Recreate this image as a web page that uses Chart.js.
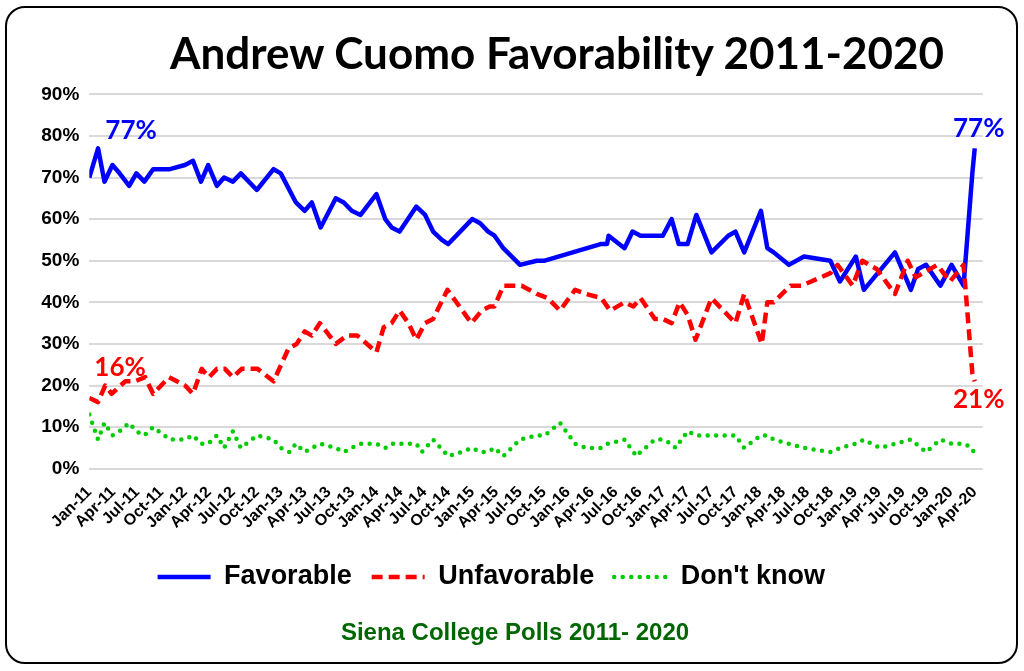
<!DOCTYPE html>
<html>
<head>
<meta charset="utf-8">
<script src="https://cdn.jsdelivr.net/npm/chart.js@4.4.1/dist/chart.umd.min.js"></script>
<style>
  body { margin: 0; background: #fff; }
  #wrap { position: relative; width: 1024px; height: 671px; overflow: hidden; }
  #myChart { position: absolute; left: 0; top: 0; }
  #frame { position: absolute; left: 5px; top: 6px; width: 1013px; height: 658px; box-sizing: border-box;
           border: 2px solid #000; border-radius: 20px; pointer-events: none; }
  #title { position: absolute; left: 557px; top: 26px; transform: translateX(-50%); white-space: nowrap;
           font: bold 44px/1.2 Lato, sans-serif; color: #000; }
  #source { position: absolute; left: 515px; top: 619px; transform: translateX(-50%); white-space: nowrap;
            font: bold 24px/26px "Liberation Sans", Arial, sans-serif; color: #006600; }
</style>
</head>
<body>
<div id="wrap">
  <canvas id="myChart" width="1024" height="671"></canvas>
  <div id="title">Andrew Cuomo Favorability 2011-2020</div>
  <div id="source">Siena College Polls 2011- 2020</div>
  <div id="frame"></div>
</div>
<script>
// months counted from Jan 2011 (0 = Jan-11, 111 = Apr-20)
var tickLabels = ['Jan-11', 'Apr-11', 'Jul-11', 'Oct-11', 'Jan-12', 'Apr-12', 'Jul-12', 'Oct-12',
    'Jan-13', 'Apr-13', 'Jul-13', 'Oct-13', 'Jan-14', 'Apr-14', 'Jul-14', 'Oct-14',
    'Jan-15', 'Apr-15', 'Jul-15', 'Oct-15', 'Jan-16', 'Apr-16', 'Jul-16', 'Oct-16',
    'Jan-17', 'Apr-17', 'Jul-17', 'Oct-17', 'Jan-18', 'Apr-18', 'Jul-18', 'Oct-18',
    'Jan-19', 'Apr-19', 'Jul-19', 'Oct-19', 'Jan-20', 'Apr-20']

var favMonths = [0, 1.1, 1.9, 2.9, 3.8, 5.0, 5.9, 6.9, 8.0, 10.1, 12.0, 13.0, 14.0, 14.9, 16.0, 16.9, 18.0, 19.0, 21.0, 23.1,
    24.0, 25.9, 27.0, 27.9, 29.0, 30.9, 31.9, 32.9, 34.0, 36.0, 37.1, 37.9, 38.9, 41.0, 42.1, 43.1, 44.2, 45.0, 48.0, 49.0,
    50.0, 50.8, 51.9, 54.0, 56.1, 57.1, 64.1, 64.9, 65.1, 67.1, 68.1, 69.1, 71.9, 73.0, 73.9, 75.0, 76.1, 78.0, 80.1, 81.0,
    82.1, 84.2, 85.0, 85.8, 87.7, 89.6, 92.9, 94.1, 96.1, 97.1, 101.0, 103.0, 103.9, 104.9, 106.7, 108.1, 109.6, 110.7, 111.0]
var favValues = [70, 77, 69, 73, 71, 68, 71, 69, 72, 72, 73, 74, 69, 73, 68, 70, 69, 71, 67, 72,
    71, 64, 62, 64, 58, 65, 64, 62, 61, 66, 60, 58, 57, 63, 61, 57, 55, 54, 60, 59,
    57, 56, 53, 49, 50, 50, 54, 54, 56, 53, 57, 56, 56, 60, 54, 54, 61, 52, 56, 57,
    52, 62, 53, 52, 49, 51, 50, 45, 51, 43, 52, 43, 48, 49, 44, 49, 44, 71, 77]

var unfavMonths = [0, 1.1, 2.0, 2.8, 4.5, 5.7, 7.0, 8.0, 10.0, 12.0, 13.0, 14.1, 15.0, 16.0, 17.0, 18.0, 19.1, 21.1, 23.1, 25.0,
    26.0, 27.0, 27.9, 28.9, 30.9, 32.3, 33.6, 36.0, 36.9, 37.9, 38.9, 40.0, 41.0, 42.1, 43.1, 44.9, 47.9, 49.2, 50.2, 50.8,
    51.9, 54.2, 56.1, 57.5, 59.0, 60.9, 62.3, 64.2, 65.3, 67.1, 68.2, 69.1, 70.9, 71.9, 73.0, 74.0, 75.0, 76.0, 78.0, 80.0,
    81.0, 82.1, 84.3, 85.0, 85.8, 87.9, 89.3, 92.9, 93.8, 95.7, 96.9, 98.7, 101.0, 102.6, 103.6, 106.3, 107.9, 109.6, 110.7, 111.0]
var unfavValues = [17, 16, 20, 18, 21, 21, 22, 18, 22, 20, 18, 24, 22, 24, 24, 22, 24, 24, 21, 29,
    30, 33, 32, 35, 30, 32, 32, 28, 34, 35, 38, 35, 31, 35, 36, 43, 35, 38, 39, 39,
    44, 44, 42, 41, 38, 43, 42, 41, 38, 40, 39, 41, 36, 36, 35, 40, 37, 31, 41, 37,
    35, 42, 30, 40, 40, 44, 44, 47, 49, 44, 50, 48, 42, 50, 46, 49, 45, 49, 23, 21]

var dkMonths = [0, 1.1, 1.9, 2.9, 3.8, 5.0, 5.9, 6.9, 8.0, 10.1, 12.0, 13.0, 14.0, 14.9, 16.0, 16.9, 18.0, 19.0, 21.0, 23.1,
    24.0, 25.1, 25.9, 27.0, 27.9, 29.0, 30.9, 31.9, 32.9, 34.0, 36.0, 37.1, 37.9, 38.9, 41.0, 41.7, 43.1, 45.0, 46.6, 48.0,
    49.0, 50.0, 50.8, 51.9, 54.0, 56.1, 57.1, 59.0, 60.9, 62.3, 64.1, 65.0, 67.1, 68.6, 69.1, 70.9, 71.9, 73.0, 73.5, 75.0,
    76.1, 78.0, 80.1, 81.0, 82.1, 84.2, 85.0, 85.8, 87.7, 89.6, 92.9, 94.1, 96.1, 97.1, 99.1, 101.0, 103.0, 104.9, 106.7, 108.1,
    109.6, 110.7, 111.0]
var dkValues = [13, 7, 11, 8, 9, 11, 9, 8, 10, 7, 7, 8, 6, 6, 8, 5, 9, 5, 8, 7,
    5, 4, 6, 4, 5, 6, 5, 4, 5, 6, 6, 5, 6, 6, 6, 4, 7, 3, 4, 5,
    4, 4, 5, 3, 7, 8, 8, 11, 6, 5, 5, 6, 7, 3, 4, 7, 7, 6, 5, 9,
    8, 8, 8, 8, 5, 8, 8, 7, 6, 5, 4, 5, 6, 7, 5, 6, 7, 4, 7, 6,
    6, 5, 3]

function points(months, values) {
    return months.map(function (m, i) { return {x: m, y: values[i]} })
}

// value labels: which series / point, and where the text sits relative to it
var notes = [
    {months: favMonths, values: favValues, index: 1, color: '#0000ff', dx: 33, dy: -18},
    {months: unfavMonths, values: unfavValues, index: 1, color: '#ff0000', dx: 22, dy: -35},
    {months: favMonths, values: favValues, index: favValues.length - 1, color: '#0000ff', dx: 4, dy: -20},
    {months: unfavMonths, values: unfavValues, index: unfavValues.length - 1, color: '#ff0000', dx: 4, dy: 18}
]

var pointLabels = {
    id: 'pointLabels',
    afterDatasetsDraw: function (chart) {
        var ctx = chart.ctx, x = chart.scales.x, y = chart.scales.y
        ctx.save()
        ctx.font = 'bold 26px Lato'
        ctx.textAlign = 'center'
        ctx.textBaseline = 'middle'
        notes.forEach(function (n) {
            var v = n.values[n.index]
            ctx.fillStyle = n.color
            ctx.fillText(v + '%', x.getPixelForValue(n.months[n.index]) + n.dx, y.getPixelForValue(v) + n.dy)
        })
        ctx.restore()
    }
}

Chart.defaults.font.family = '"Liberation Sans", Arial, sans-serif'
Chart.defaults.color = '#000'

var ctx = document.getElementById('myChart').getContext('2d');
var chart = new Chart(ctx, {
    type: 'line',
    data: {
        datasets: [{
            label: 'Favorable',
            data: points(favMonths, favValues),
            borderColor: '#0000ff',
            borderWidth: 4.5,
            order: 3
        }, {
            label: 'Unfavorable',
            data: points(unfavMonths, unfavValues),
            borderColor: '#ff0000',
            borderWidth: 4.5,
            borderDash: [11, 6],
            order: 2
        }, {
            label: "Don't know",
            data: points(dkMonths, dkValues),
            borderColor: '#00cc00',
            borderWidth: 4.5,
            borderDash: [0, 8.5],
            borderCapStyle: 'round',
            order: 1
        }]
    },
    options: {
        responsive: false,
        animation: false,
        layout: { padding: { top: 94.3, left: 0, right: 41.3, bottom: 70.5 } },
        elements: {
            point: { radius: 0 },
            line: { tension: 0, borderJoinStyle: 'round', fill: false }
        },
        scales: {
            x: {
                type: 'linear',
                min: 0,
                max: 112,
                grid: { display: false },
                border: { display: false },
                afterBuildTicks: function (scale) {
                    scale.ticks = tickLabels.map(function (_, i) { return {value: i * 3} })
                },
                afterFit: function (scale) { scale.height = 74.8 },
                ticks: {
                    autoSkip: false,
                    minRotation: 45,
                    maxRotation: 45,
                    padding: 6,
                    font: { size: 16, weight: 'bold' },
                    callback: function (value, index) { return tickLabels[index] }
                }
            },
            y: {
                min: 0,
                max: 90,
                grid: { color: '#d9d9d9', lineWidth: 2, drawTicks: false },
                border: { display: false },
                afterFit: function (scale) { scale.width = 89.3 },
                ticks: {
                    stepSize: 10,
                    padding: 10,
                    font: { size: 19, weight: 'bold' },
                    callback: function (value) { return value + '%' }
                }
            }
        },
        plugins: {
            tooltip: { enabled: false },
            title: { display: false },
            legend: {
                position: 'bottom',
                labels: {
                    usePointStyle: true,
                    pointStyleWidth: 53,
                    padding: 20,
                    color: '#000',
                    font: { size: 27, weight: 'bold' },
                    generateLabels: function (chart) {
                        return chart.data.datasets.map(function (ds, i) {
                            return {
                                text: ds.label,
                                strokeStyle: ds.borderColor,
                                fillStyle: ds.borderColor,
                                lineWidth: ds.borderWidth,
                                lineDash: ds.borderDash || [],
                                lineCap: ds.borderCapStyle || 'butt',
                                pointStyle: 'line',
                                hidden: false,
                                datasetIndex: i
                            }
                        })
                    }
                }
            }
        }
    },
    plugins: [pointLabels]
});
</script>
</body>
</html>
